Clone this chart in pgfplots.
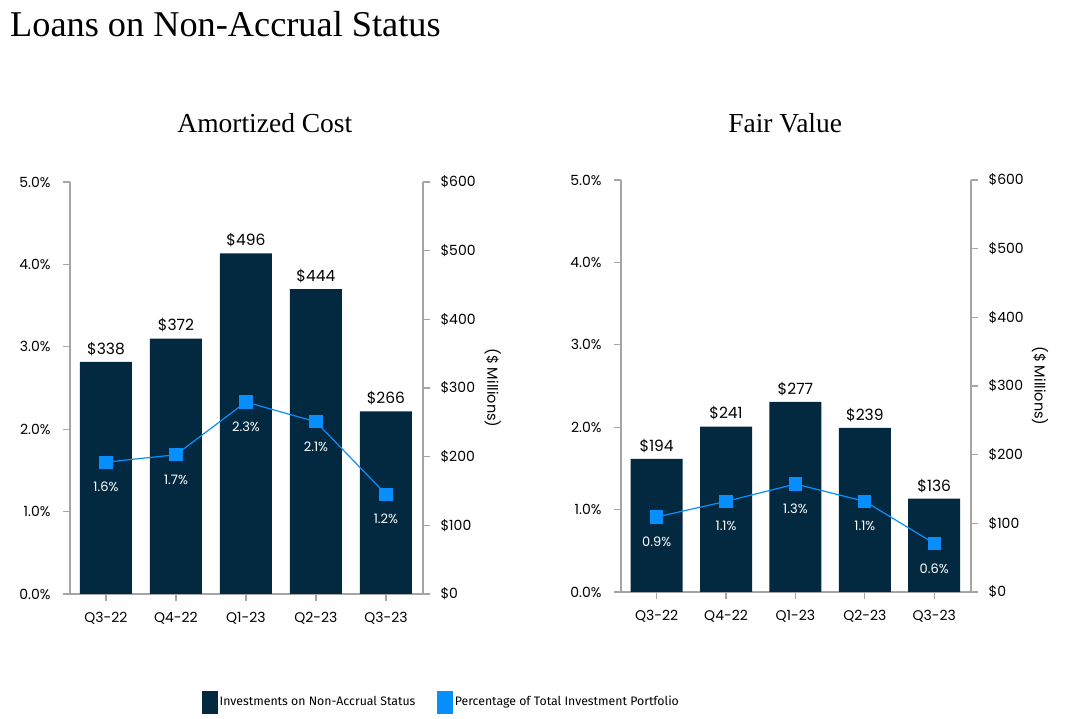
\documentclass[border=0pt]{standalone}
\usepackage{pgfplots}
\pgfplotsset{compat=1.18}
\usepackage{fontspec}
\setmainfont{Poppins}
\newfontfamily\serif{Liberation Serif}
\newfontfamily\legfont{Fira Sans}
\definecolor{navy}{RGB}{3,41,64}
\definecolor{mblue}{RGB}{8,143,255}
\definecolor{axgray}{RGB}{165,165,165}
\pgfplotsset{
  base/.style={scale only axis, height=412pt, xmin=-0.514, xmax=4.53,
    /pgf/number format/assume math mode=true,
    tick label style={font=\fontsize{14}{16}\selectfont, text=black},
    axis line style={axgray, line width=1.2pt},
    major tick style={axgray, line width=1.2pt},
    tick align=outside, major tick length=7pt, clip=false},
  bars/.style={base, ymin=0, ymax=600, axis y line*=right, axis x line*=bottom,
    xtick={0,...,4}, xticklabels={Q3-22,Q4-22,Q1-23,Q2-23,Q3-23},
    xticklabel style={yshift=-8pt},
    ytick={0,100,...,600}, yticklabels={\$0,\$100,\$200,\$300,\$400,\$500,\$600},
    yticklabel style={xshift=7pt},
    ylabel={(\$ Millions)},
    ylabel style={font=\fontsize{14.5}{16}\selectfont, at={(axis description cs:1.198,0.5)}, rotate=180, anchor=center},
    title style={font=\serif\fontsize{27.5}{30}\selectfont, anchor=center}},
  pct/.style={base, ymin=0, ymax=5, axis y line*=left, axis x line=none,
    ytick={0,1,...,5}, yticklabels={0.0\%,1.0\%,2.0\%,3.0\%,4.0\%,5.0\%},
    yticklabel style={xshift=-9pt}},
  barplot/.style={ybar, bar width=52pt, fill=navy, draw=none,
    point meta=explicit symbolic, nodes near coords,
    nodes near coords style={font=\fontsize{15.5}{17}\selectfont, text=black, anchor=center, yshift=13pt}},
  lineplot/.style={mblue, line width=1.2pt, mark=square*, mark size=6pt,
    mark options={solid, fill=mblue, draw=mblue},
    point meta=explicit symbolic, nodes near coords,
    nodes near coords style={font=\fontsize{13}{14}\selectfont, text=white, anchor=center, yshift=-25pt}},
}
\begin{document}
\begin{tikzpicture}
\useasboundingbox (0,0) rectangle (1066pt,719pt);
% ---------------- Amortized Cost ----------------
\begin{axis}[bars, width=353pt, at={(70pt,125pt)}, anchor=south west,
  title={Amortized Cost}, title style={at={(axis description cs:0.552,1.128)}},
  legend style={at={(axis description cs:0.374,-0.262)}, anchor=west, draw=none, inner sep=0pt,
    font=\legfont\fontsize{12.3}{14}\selectfont, legend columns=2,
    /tikz/every even column/.append style={column sep=20pt}},
  legend cell align=left]
\addplot[barplot, forget plot] coordinates {(0,338)[\$338] (1,372)[\$372] (2,496)[\$496] (3,444)[\$444] (4,266)[\$266]};
\addlegendimage{legend image code/.code={\fill[navy] (0pt,-11pt) rectangle (15pt,11pt);}}
\addlegendentry{Investments on Non-Accrual Status}
\addlegendimage{legend image code/.code={\fill[mblue] (0pt,-11pt) rectangle (15pt,11pt);}}
\addlegendentry{Percentage of Total Investment Portfolio}
\end{axis}
\begin{axis}[pct, width=353pt, at={(70pt,125pt)}, anchor=south west]
\addplot[lineplot] coordinates {(0,1.6)[1.6\%] (1,1.69)[1.7\%] (2,2.33)[2.3\%] (3,2.09)[2.1\%] (4,1.21)[1.2\%]};
\end{axis}
% ---------------- Fair Value ----------------
\begin{axis}[bars, width=350pt, at={(621pt,127pt)}, anchor=south west,
  ylabel style={at={(axis description cs:1.197,0.5)}},
  title={Fair Value}, title style={at={(axis description cs:0.469,1.123)}}]
\addplot[barplot] coordinates {(0,194)[\$194] (1,241)[\$241] (2,277)[\$277] (3,239)[\$239] (4,136)[\$136]};
\end{axis}
\begin{axis}[pct, width=350pt, at={(621pt,127pt)}, anchor=south west]
\addplot[lineplot] coordinates {(0,0.91)[0.9\%] (1,1.10)[1.1\%] (2,1.31)[1.3\%] (3,1.10)[1.1\%] (4,0.59)[0.6\%]};
\end{axis}
\node[anchor=base west, inner sep=0pt, font=\serif\fontsize{36.3}{40}\selectfont] at (10pt,682pt) {Loans on Non-Accrual Status};
\end{tikzpicture}
\end{document}
